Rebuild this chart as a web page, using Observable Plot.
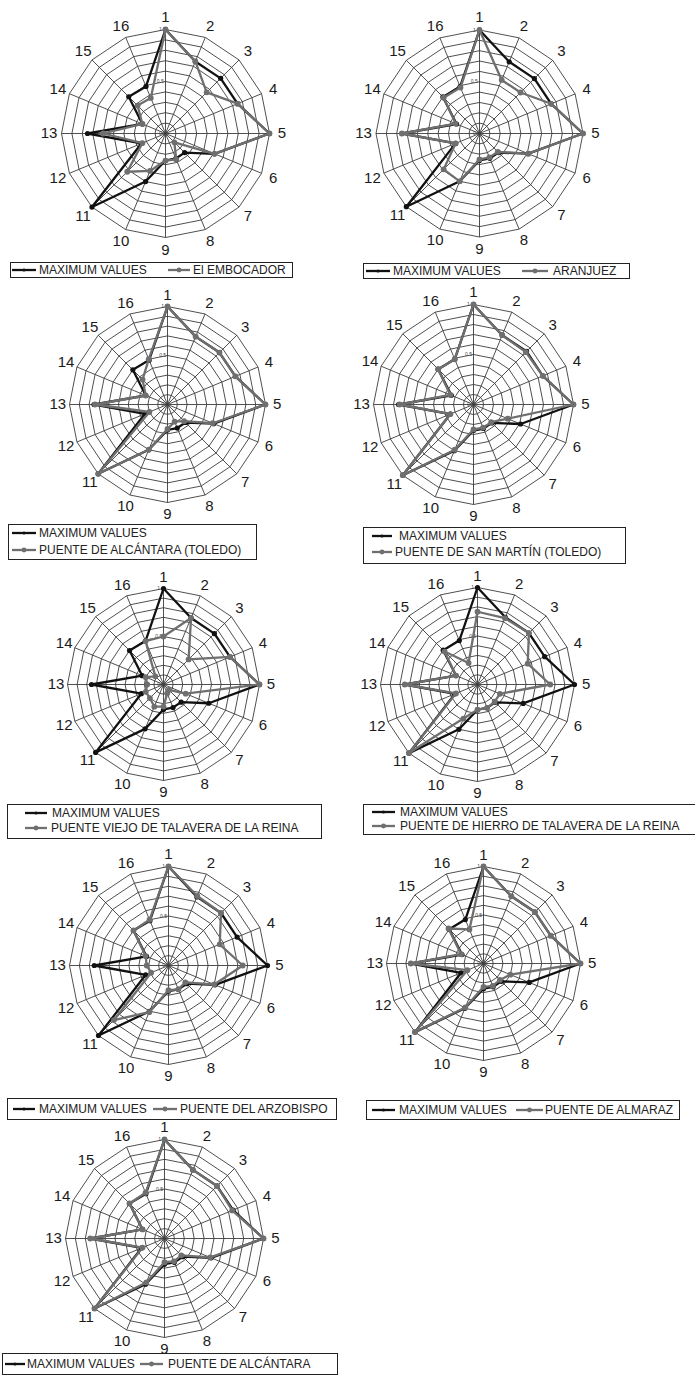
<!DOCTYPE html>
<html><head><meta charset="utf-8">
<script src="https://cdn.jsdelivr.net/npm/d3@7"></script>
<script src="https://cdn.jsdelivr.net/npm/@observablehq/plot@0.6"></script>
<style>
body{margin:0;background:#fff;}
#page{position:relative;width:695px;height:1387px;overflow:hidden;font-family:"Liberation Sans",Arial,sans-serif;background:#fff;}
.panel{position:absolute;}
.legend{position:absolute;border:1.5px solid #222;box-sizing:border-box;}
.ltext{position:absolute;font-size:12px;color:#222;white-space:nowrap;line-height:12px;transform:translateY(-50%);}
.sw{position:absolute;overflow:visible;}
</style></head><body><div id="page"></div>
<script>
// ---- data ----
const axisLabels = ["1","2","3","4","5","6","7","8","9","10","11","12","13","14","15","16"];
const ringLevels = [0.1,0.2,0.3,0.4,0.5,0.6,0.7,0.8,0.9,1.0];
const tickLabels = [0, 0.5, 1];
const maxLabel = "MAXIMUM VALUES";
const siteNames = [
  "El EMBOCADOR",
  "ARANJUEZ",
  "PUENTE DE ALCÁNTARA (TOLEDO)",
  "PUENTE DE SAN MARTÍN (TOLEDO)",
  "PUENTE VIEJO DE TALAVERA DE LA REINA",
  "PUENTE DE HIERRO DE TALAVERA DE LA REINA",
  "PUENTE DEL ARZOBISPO",
  "PUENTE DE ALMARAZ",
  "PUENTE DE ALCÁNTARA"
];
const maximumValues   = [1, 0.75, 0.75, 0.75, 1, 0.51, 0.26, 0.26, 0.26, 0.5, 1, 0.25, 0.75, 0.24, 0.5, 0.49];
const elEmbocador     = [1, 0.75, 0.56, 0.75, 1, 0.51, 0.12, 0.27, 0.26, 0.39, 0.52, 0.24, 0.6, 0.24, 0.38, 0.37];
const aranjuez        = [1, 0.56, 0.56, 0.75, 1, 0.51, 0.25, 0.25, 0.25, 0.5, 0.49, 0.25, 0.75, 0.25, 0.49, 0.48];
const alcantaraToledo = [1, 0.75, 0.75, 0.75, 1, 0.5, 0.24, 0.19, 0.25, 0.5, 1, 0.2, 0.74, 0.24, 0.36, 0.5];
const sanMartinToledo = [1, 0.75, 0.74, 0.75, 1, 0.37, 0.25, 0.25, 0.25, 0.49, 1, 0.25, 0.74, 0.25, 0.5, 0.49];
const viejoTalavera   = [0.5, 0.75, 0.37, 0.75, 1, 0.25, 0.08, 0.1, 0.23, 0.25, 0.2, 0.2, 0.17, 0.2, 0.12, 0.49];
const hierroTalavera  = [0.75, 0.74, 0.75, 0.56, 0.75, 0.25, 0.25, 0.26, 0.26, 0.38, 1, 0.24, 0.75, 0.24, 0.48, 0.24];
const arzobispo       = [1, 0.76, 0.75, 0.56, 0.75, 0.5, 0.24, 0.26, 0.25, 0.51, 0.78, 0.19, 0.22, 0.25, 0.5, 0.5];
const almaraz         = [1, 0.75, 0.75, 0.75, 1, 0.3, 0.24, 0.25, 0.24, 0.49, 1, 0.18, 0.75, 0.25, 0.51, 0.38];
const alcantara       = [1, 0.75, 0.75, 0.74, 1, 0.5, 0.24, 0.25, 0.24, 0.48, 1, 0.24, 0.75, 0.24, 0.5, 0.5];
const siteSeries = [elEmbocador, aranjuez, alcantaraToledo, sanMartinToledo, viejoTalavera, hierroTalavera, arzobispo, almaraz, alcantara];

// ---- layout (positions only) ----
const layout = [
  {cx:165, cy:133.3, R:104, box:[10,262,283,16], items:[[12,36,270,39],[168,190,270,193]]},
  {cx:479, cy:133.3, R:103.5, box:[363,263,267,16], items:[[366,390,271,393],[522,548,271,553]]},
  {cx:167.3, cy:404, R:98, box:[8,524,249,36], items:[[12,36,533,39],[12,36,550,39]]},
  {cx:472.7, cy:404, R:100, box:[363,527,263,37], items:[[372,392,536,399],[372,392,552,395]]},
  {cx:163.3, cy:684.3, R:96, box:[7,804,315,35], items:[[25,47,813,52],[25,47,828,51]]},
  {cx:476.7, cy:684.3, R:97, box:[363,804,345,31], items:[[372,395,812,400],[372,395,826,400]]},
  {cx:168.4, cy:964.7, R:99, box:[7,1098,330,22], items:[[13,35,1109,39],[153,177,1109,180]]},
  {cx:483, cy:963, R:97, box:[366,1100,314,20], items:[[372,395,1110,399],[516,543,1110,545]]},
  {cx:164.3, cy:1237.7, R:99, box:[2,1353,336,22], items:[[5,25,1364,27],[140,163,1364,168]]}
];

const BLACK = "#111", GRAY = "#6f6f6f", GRID = "#3c3c3c";
const N = axisLabels.length;
const ang = i => i * 2 * Math.PI / N;
const closed = vals => { const p = vals.map((v, i) => ({i, v})); return [...p, p[0]]; };
const page = document.getElementById("page");

function radar(values, L) {
  const W = 300, H = 260;
  const xr = W / 2 / L.R, yr = H / 2 / L.R;
  const ringData = ringLevels.flatMap(r => d3.range(N + 1).map(k => ({r, i: k % N})));
  const spokeData = axisLabels.map((t, i) => ({i}));
  const svg = Plot.plot({
    width: W, height: H, margin: 0,
    x: {domain: [-xr, xr], axis: null},
    y: {domain: [-yr, yr], axis: null},
    style: {fontFamily: "Liberation Sans, Arial, sans-serif", background: "transparent", overflow: "visible"},
    marks: [
      Plot.line(ringData, {x: d => d.r * Math.sin(ang(d.i)), y: d => d.r * Math.cos(ang(d.i)), z: "r", stroke: GRID, strokeWidth: 0.9}),
      Plot.link(spokeData, {x1: d => 0, y1: d => 0, x2: d => Math.sin(ang(d.i)), y2: d => Math.cos(ang(d.i)), stroke: GRID, strokeWidth: 0.9}),
      Plot.text(tickLabels, {x: d => -0.05, y: d => d, text: d => String(d), fontSize: 5, fill: "#444"}),
      Plot.line(closed(maximumValues), {x: d => d.v * Math.sin(ang(d.i)), y: d => d.v * Math.cos(ang(d.i)), stroke: BLACK, strokeWidth: 2.3}),
      Plot.dot(maximumValues.map((v, i) => ({v, i})), {x: d => d.v * Math.sin(ang(d.i)), y: d => d.v * Math.cos(ang(d.i)), r: 2.6, fill: BLACK}),
      Plot.line(closed(values), {x: d => d.v * Math.sin(ang(d.i)), y: d => d.v * Math.cos(ang(d.i)), stroke: GRAY, strokeWidth: 2.3}),
      Plot.dot(values.map((v, i) => ({v, i})), {x: d => d.v * Math.sin(ang(d.i)), y: d => d.v * Math.cos(ang(d.i)), r: 2.9, fill: GRAY}),
      Plot.text(axisLabels, {x: (d, i) => 1.12 * Math.sin(ang(i)), y: (d, i) => 1.12 * Math.cos(ang(i)), text: d => d, fontSize: 15, fill: "#1a1a1a"})
    ]
  });
  const div = document.createElement("div");
  div.className = "panel";
  div.style.left = (L.cx - W / 2) + "px";
  div.style.top = (L.cy - H / 2) + "px";
  div.appendChild(svg);
  page.appendChild(div);
}

function swatch(x1, x2, y, color, r) {
  const ns = "http://www.w3.org/2000/svg";
  const s = document.createElementNS(ns, "svg");
  s.setAttribute("class", "sw");
  s.setAttribute("width", x2 - x1); s.setAttribute("height", 10);
  s.style.left = x1 + "px"; s.style.top = (y - 5) + "px";
  const l = document.createElementNS(ns, "line");
  l.setAttribute("x1", 0); l.setAttribute("x2", x2 - x1); l.setAttribute("y1", 5); l.setAttribute("y2", 5);
  l.setAttribute("stroke", color); l.setAttribute("stroke-width", 2.3);
  const c = document.createElementNS(ns, "circle");
  c.setAttribute("cx", (x2 - x1) / 2); c.setAttribute("cy", 5); c.setAttribute("r", r); c.setAttribute("fill", color);
  s.appendChild(l); s.appendChild(c);
  page.appendChild(s);
}
function label(x, y, t) {
  const sp = document.createElement("div");
  sp.className = "ltext"; sp.style.left = x + "px"; sp.style.top = y + "px"; sp.textContent = t;
  page.appendChild(sp);
}

layout.forEach((L, k) => {
  radar(siteSeries[k], L);
  const b = document.createElement("div");
  b.className = "legend";
  b.style.left = L.box[0] + "px"; b.style.top = L.box[1] + "px";
  b.style.width = L.box[2] + "px"; b.style.height = L.box[3] + "px";
  page.appendChild(b);
  const [m, s] = L.items;
  swatch(m[0], m[1], m[2], BLACK, 1.6); label(m[3], m[2], maxLabel);
  swatch(s[0], s[1], s[2], GRAY, 2.4); label(s[3], s[2], siteNames[k]);
});
</script></body></html>
